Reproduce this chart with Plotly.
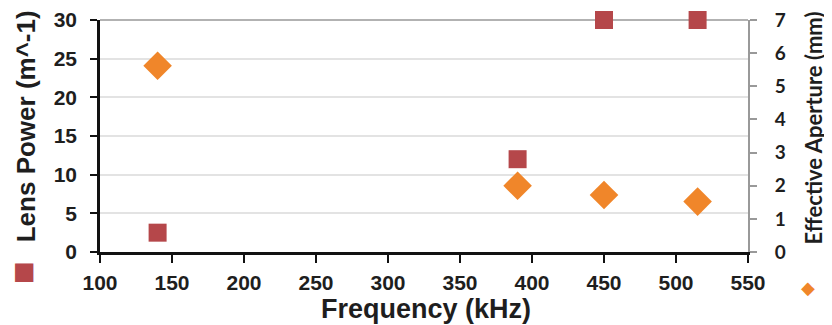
import plotly.graph_objects as go

freq_power = [140, 390, 450, 515]
lens_power = [2.5, 12, 30, 30]
freq_aperture = [140, 390, 450, 515]
aperture = [5.62, 2.0, 1.72, 1.52]

x_ticks = [100, 150, 200, 250, 300, 350, 400, 450, 500, 550]
y1_ticks = [0, 5, 10, 15, 20, 25, 30]
y2_ticks = [0, 1, 2, 3, 4, 5, 6, 7]

x_title = "Frequency (kHz)"
y1_title = "Lens Power (m^-1)"
y2_title = "Effective Aperture (mm)"

RED = "#B5474A"
ORANGE = "#F0862A"
TXT = "#1e1e1e"

fig = go.Figure()
fig.add_trace(go.Scatter(x=freq_power, y=lens_power, mode="markers", name=y1_title,
                         marker=dict(symbol="square", size=18, color=RED), cliponaxis=False))
fig.add_trace(go.Scatter(x=freq_aperture, y=aperture, mode="markers", name=y2_title,
                         marker=dict(symbol="diamond", size=22, color=ORANGE), yaxis="y2", cliponaxis=False))

# page body has an 8px margin, so the figure is sized to fit the 832x325 window
fig.update_layout(
    width=824, height=317,
    margin=dict(l=92, r=84, t=12, b=73, autoexpand=False),
    paper_bgcolor="white", plot_bgcolor="white",
    showlegend=False,
    font=dict(family="Liberation Sans", color=TXT),
    xaxis=dict(range=[100, 550], tickvals=x_ticks, ticks="outside", ticklen=8, tickwidth=2,
               tickcolor="#111", showline=True, linecolor="#111", linewidth=2.5, showgrid=False,
               zeroline=False, automargin=False, ticklabelstandoff=2,
               ticklabeloverflow="allow",
               tickfont=dict(size=21, family="Liberation Sans", color=TXT, weight="bold")),
    yaxis=dict(range=[0, 30], tickvals=y1_ticks, ticks="outside", ticklen=7, tickwidth=2,
               tickcolor="#111", showline=True, linecolor="#111", linewidth=2.5,
               showgrid=True, gridcolor="#e3e3e3", gridwidth=2, zeroline=False,
               automargin=False, ticklabelstandoff=9, ticklabeloverflow="allow",
               tickfont=dict(size=21, family="Liberation Sans", color=TXT, weight="bold")),
    yaxis2=dict(range=[0, 7], tickvals=y2_ticks, overlaying="y", side="right", ticks="outside",
                ticklen=7, tickwidth=1.5, tickcolor="#999", showline=True, linecolor="#999",
                linewidth=2, showgrid=False, zeroline=False, automargin=False,
                ticklabelstandoff=14, ticklabeloverflow="allow",
                tickfont=dict(size=19, family="Lato", color=TXT, weight="bold")),
)

# top frame line
fig.add_shape(type="line", xref="paper", yref="paper", x0=0, x1=1, y0=1, y1=1,
              line=dict(color="#999", width=1.5), layer="below")

# axis titles as annotations
fig.add_annotation(text=x_title, xref="paper", yref="paper", x=0.503, y=-0.2457,
                   xanchor="center", yanchor="middle", showarrow=False,
                   font=dict(size=27, family="Liberation Sans", color=TXT, weight="bold"))
fig.add_annotation(text=y1_title, xref="paper", yref="paper", x=-0.113, y=0.541,
                   xanchor="center", yanchor="middle", showarrow=False, textangle=-90,
                   font=dict(size=26, family="Liberation Sans", color=TXT, weight="bold"))
fig.add_annotation(text="■", xref="paper", yref="paper", x=-0.117, y=-0.0819,
                   xanchor="center", yanchor="middle", showarrow=False,
                   font=dict(size=24, family="DejaVu Sans", color=RED))
fig.add_annotation(text=y2_title, xref="paper", yref="paper", x=1.1003, y=0.537,
                   xanchor="center", yanchor="middle", showarrow=False, textangle=-90,
                   font=dict(size=22, family="Lato", color=TXT, weight="bold"))
fig.add_annotation(text="◆", xref="paper", yref="paper", x=1.0926, y=-0.155,
                   xanchor="center", yanchor="middle", showarrow=False,
                   font=dict(size=18, family="DejaVu Sans", color=ORANGE))

fig.write_html("out.html")
